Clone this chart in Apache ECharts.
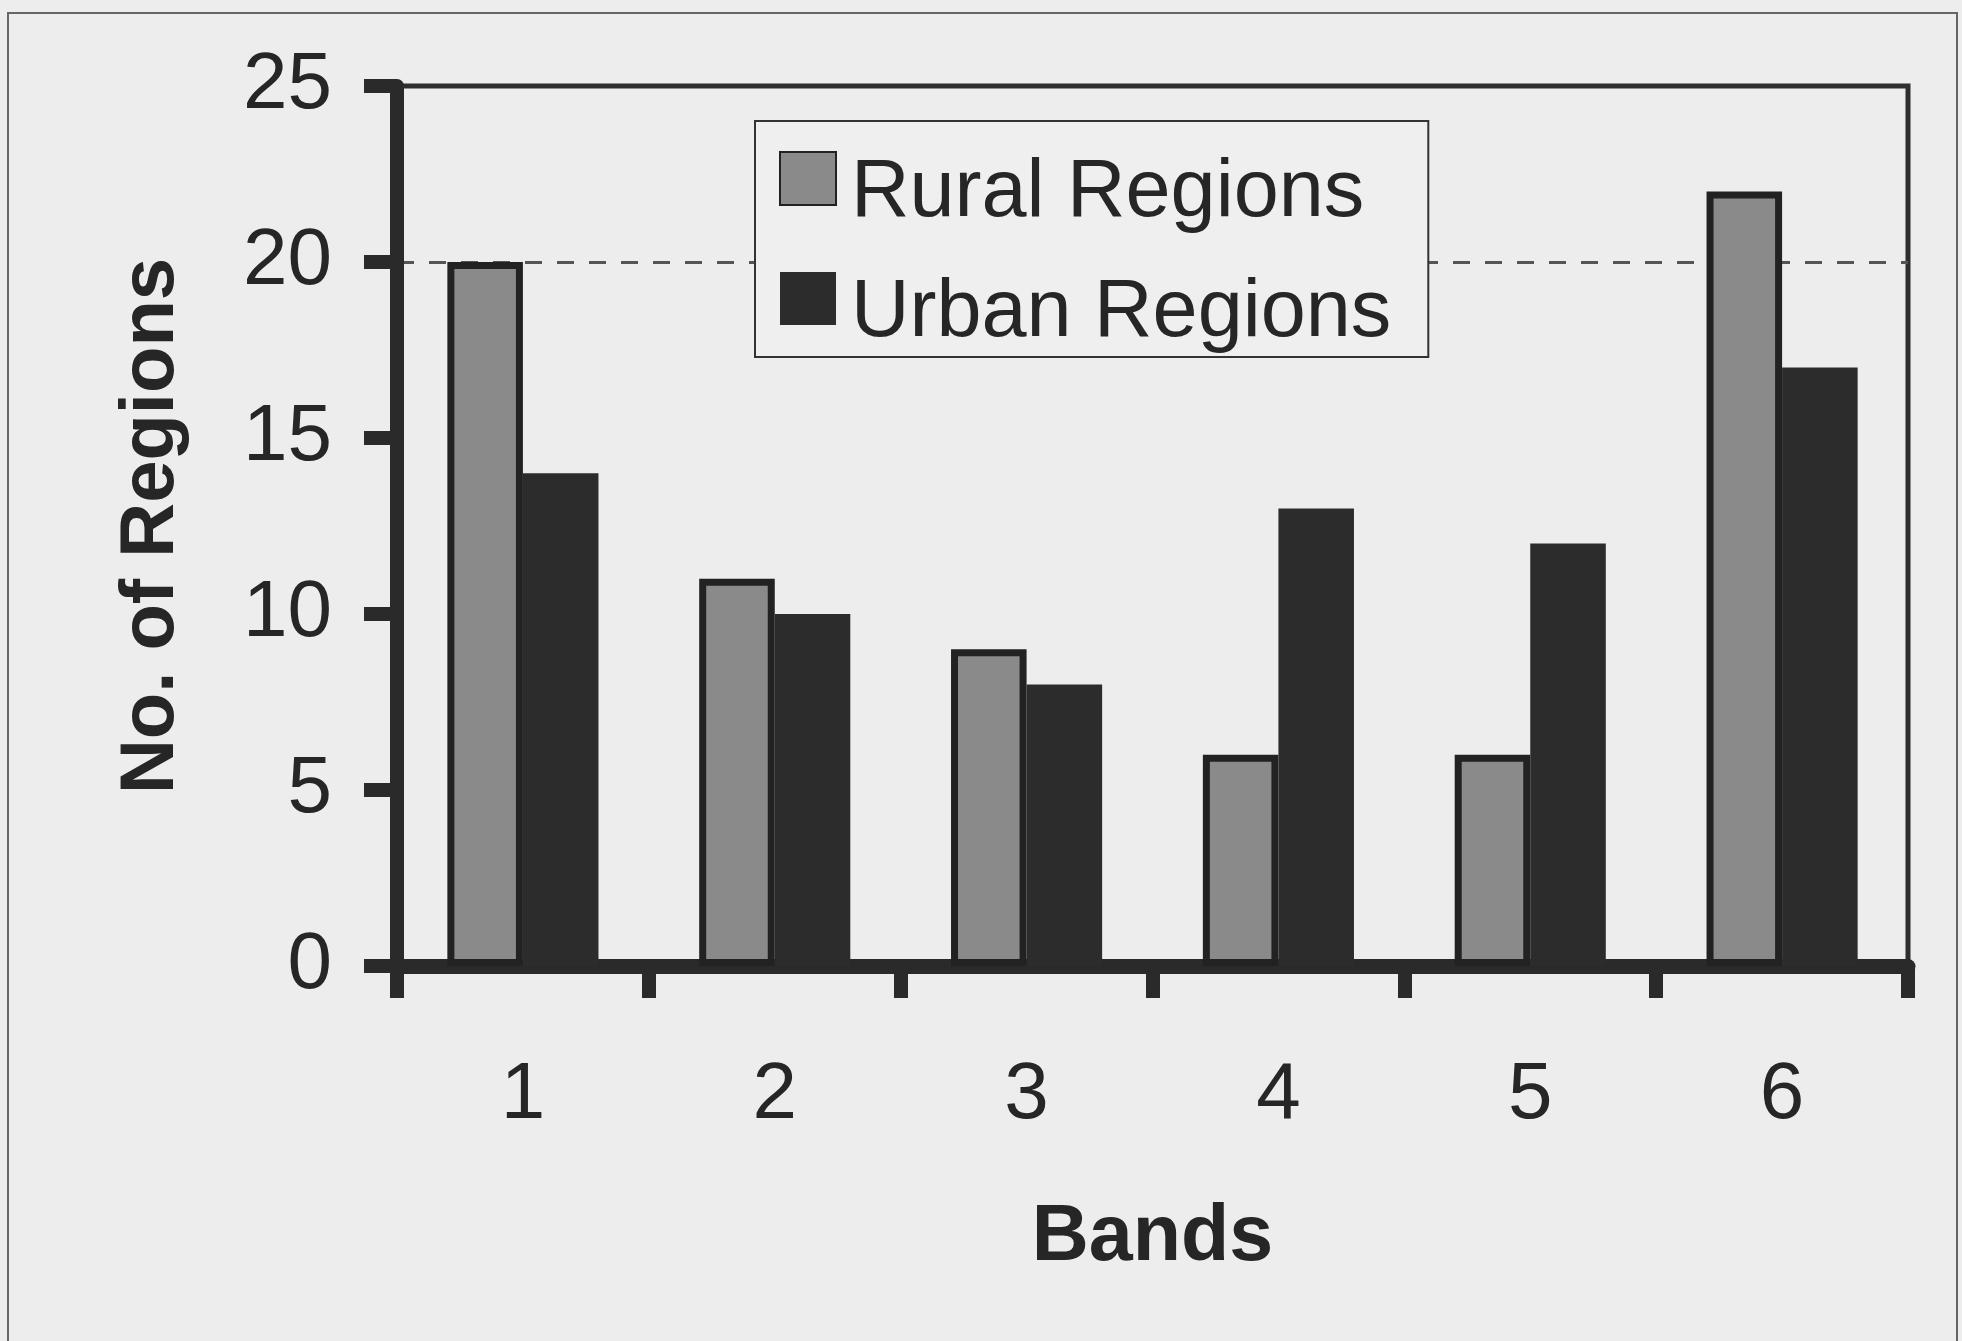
<!DOCTYPE html>
<html><head><meta charset="utf-8">
<script src="https://cdn.jsdelivr.net/npm/echarts@6/dist/echarts.min.js"></script>
<style>html,body{margin:0;padding:0;background:#ededed;} #c{width:1962px;height:1341px;}</style>
</head><body><div id="c"></div>
<script>
const bands = ['1', '2', '3', '4', '5', '6'];
const ruralRegions = [20, 11, 9, 6, 6, 22];
const urbanRegions = [14, 10, 8, 13, 12, 17];
const seriesNames = ['Rural Regions', 'Urban Regions'];
const yMin = 0, yMax = 25, yStep = 5;

const FONT = "'Liberation Sans', Arial, sans-serif";
const INK = '#262626';
const AXIS = '#2a2a2a';

const chart = echarts.init(document.getElementById('c'), null, {renderer: 'canvas'});
chart.setOption({
  animation: false,
  backgroundColor: '#ededed',
  textStyle: {fontFamily: FONT, color: INK},
  graphic: [{
    type: 'rect', silent: true, z: -1,
    shape: {x: 8, y: 13, width: 1949, height: 1400},
    style: {fill: 'none', stroke: '#666', lineWidth: 2}
  }],
  grid: {
    left: 397, right: 54, top: 86, bottom: 375,
    show: true, borderWidth: 5, borderColor: '#2e2e2e', backgroundColor: 'transparent'
  },
  legend: {
    orient: 'vertical', left: 755, top: 121,
    data: seriesNames,
    icon: 'rect', itemWidth: 56, itemHeight: 53, itemGap: 9,
    padding: [2, 37, 3, 24],
    backgroundColor: '#efefef', borderColor: '#333', borderWidth: 2,
    formatter: function (name) { return '{t|' + name + '}'; },
    textStyle: {
      color: INK, fontFamily: FONT,
      rich: {t: {fontSize: 81, lineHeight: 81, padding: [30, 0, 0, 10], color: INK, fontFamily: FONT}}
    }
  },
  xAxis: {
    type: 'category', data: bands,
    name: 'Bands', nameLocation: 'middle', nameGap: 233,
    nameTextStyle: {fontSize: 79, fontWeight: 'bold', color: INK, fontFamily: FONT},
    axisLine: {lineStyle: {color: AXIS, width: 15}},
    axisTick: {show: true, alignWithLabel: false, length: 32, lineStyle: {color: AXIS, width: 14}},
    axisLabel: {fontSize: 80, color: INK, margin: 90, fontFamily: FONT},
    splitLine: {show: false}
  },
  yAxis: {
    type: 'value', min: yMin, max: yMax, interval: yStep,
    name: 'No. of Regions', nameLocation: 'middle', nameGap: 207,
    nameTextStyle: {fontSize: 76, fontWeight: 'bold', color: INK, fontFamily: FONT},
    axisLine: {show: true, lineStyle: {color: AXIS, width: 14}},
    axisTick: {show: true, length: 33, lineStyle: {color: AXIS, width: 14}},
    axisLabel: {fontSize: 80, color: INK, margin: 65, fontFamily: FONT},
    splitLine: {show: true, lineStyle: {
      color: ['rgba(0,0,0,0)', 'rgba(0,0,0,0)', 'rgba(0,0,0,0)', 'rgba(0,0,0,0)', '#555', 'rgba(0,0,0,0)'],
      width: 3, type: [17, 15]
    }}
  },
  series: [
    {
      name: seriesNames[0], type: 'bar', data: ruralRegions,
      barGap: '0%', barCategoryGap: '40%',
      itemStyle: {color: '#8a8a8a', borderColor: '#222', borderWidth: 7}
    },
    {
      name: seriesNames[1], type: 'bar', data: urbanRegions,
      barGap: '0%', barCategoryGap: '40%',
      itemStyle: {color: '#2c2c2c'}
    }
  ]
});
</script></body></html>
